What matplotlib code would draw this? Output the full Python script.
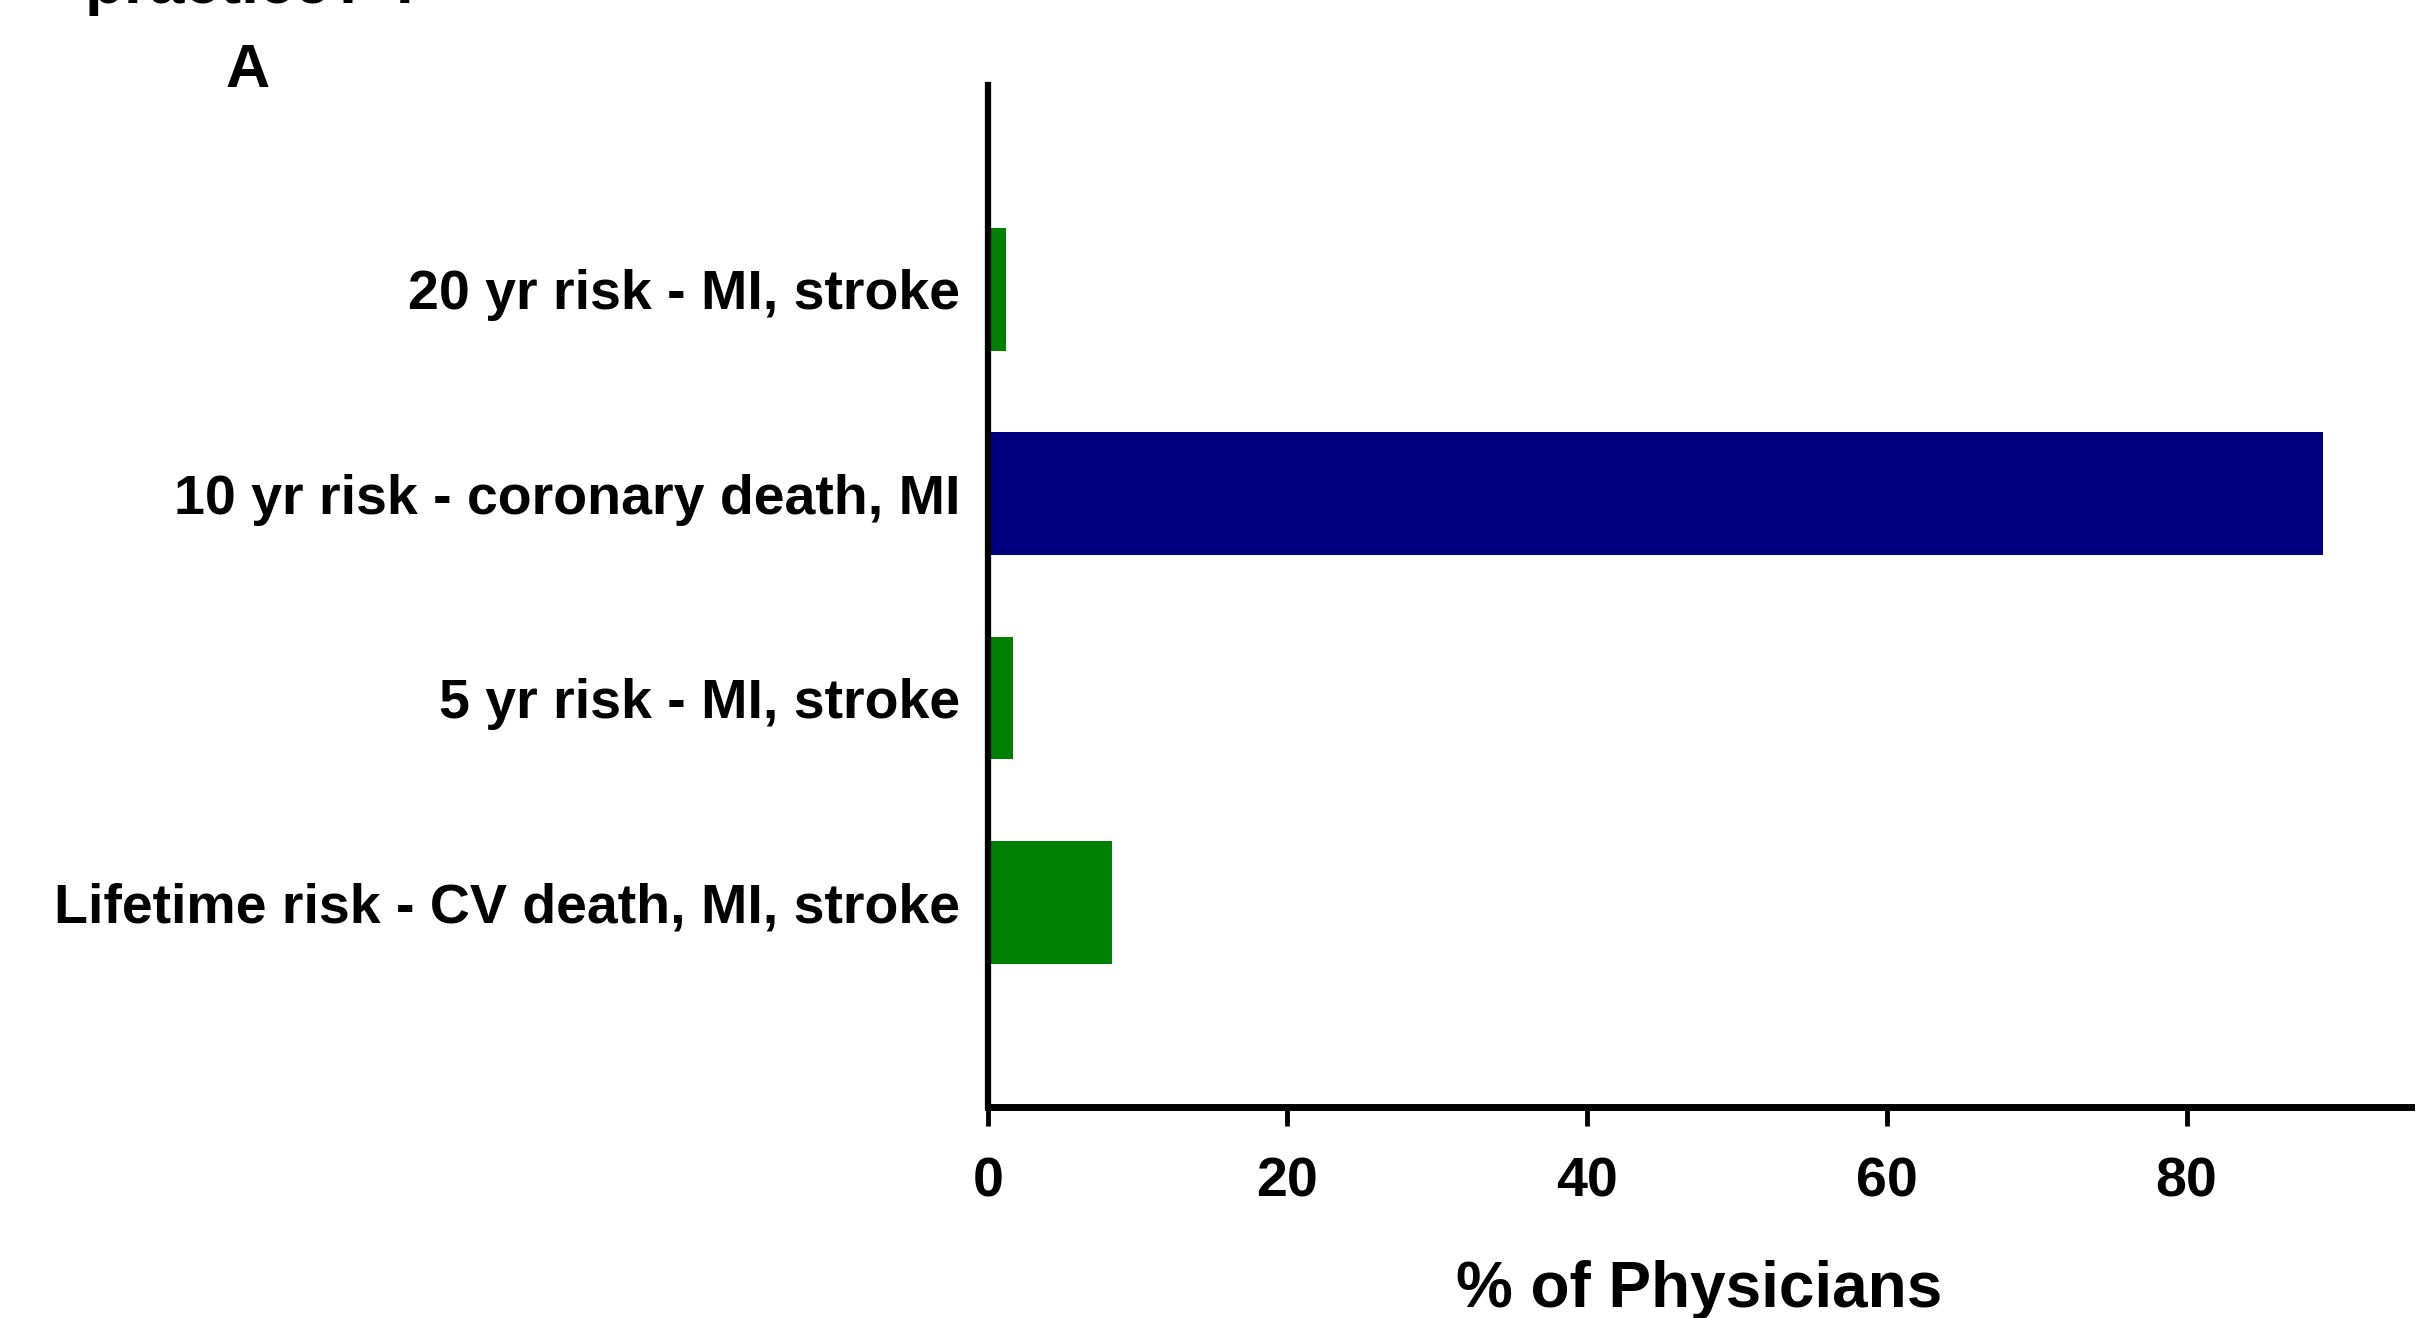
import matplotlib.pyplot as plt

# Data (bottom to top)
categories = ['Lifetime risk - CV death, MI, stroke',
              '5 yr risk - MI, stroke',
              '10 yr risk - coronary death, MI',
              '20 yr risk - MI, stroke']
percent = [8.3, 1.7, 89.1, 1.2]
bar_colors = ['#008000', '#008000', '#000080', '#008000']
x_ticks = [0, 20, 40, 60, 80]

plt.rcParams['font.family'] = ['Liberation Sans', 'DejaVu Sans']
plt.rcParams['font.weight'] = 'bold'

fig = plt.figure(figsize=(24.21, 13.18), dpi=100)
ax = fig.add_axes([0.408, 0.1604, 0.588, 0.7752])

ypos = list(range(len(categories)))
ax.barh(ypos, percent, height=0.6, color=bar_colors, zorder=1)

ax.set_ylim(-1, 4)
ax.set_xlim(0, 95)
ax.set_yticks(ypos)
ax.set_yticklabels(categories, fontsize=40, fontweight='bold')
ax.set_xticks(x_ticks)
ax.set_xticklabels([str(t) for t in x_ticks], fontsize=40, fontweight='bold')

for side in ['top', 'right']:
    ax.spines[side].set_visible(False)
ax.spines['left'].set_linewidth(4.5)
ax.spines['bottom'].set_linewidth(5)
ax.tick_params(axis='y', length=0, pad=20)
ax.tick_params(axis='x', length=14, width=3.5, direction='out', pad=22)

ax.set_xlabel('% of Physicians', fontsize=46, fontweight='bold', labelpad=37)

# panel letter and cut-off heading
fig.text(0.093, 0.924, 'A', fontsize=44, fontweight='bold', ha='left', va='bottom')
fig.text(0.035, 0.998, 'practice? ?', fontsize=46, fontweight='bold', ha='left', va='baseline')

fig.savefig('out.png', dpi=100)
